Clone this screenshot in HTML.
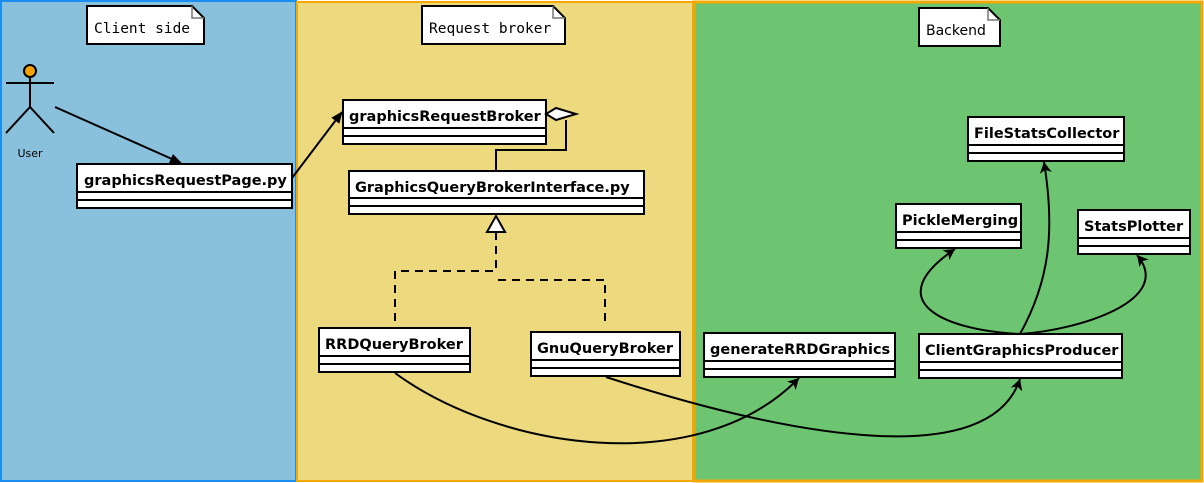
<!DOCTYPE html>
<html><head><meta charset="utf-8"><style>
html,body{margin:0;padding:0;background:#fff}
svg{display:block}
.b{font-family:"DejaVu Sans","Liberation Sans",sans-serif;font-weight:bold;font-size:14.5px}
.m{font-family:"DejaVu Sans Mono","Liberation Mono",monospace;font-size:14.5px}
.s{font-family:"DejaVu Sans","Liberation Sans",sans-serif;font-size:14px}
</style></head><body>
<svg width="1204" height="483" viewBox="0 0 1204 483" xmlns="http://www.w3.org/2000/svg">
<defs>
<marker id="a" markerWidth="12" markerHeight="10" refX="11" refY="5" orient="auto" markerUnits="userSpaceOnUse">
<path d="M0,0 L12,5 L0,10 Z" fill="#000"/></marker>
<marker id="o" markerWidth="12" markerHeight="12" refX="11" refY="6" orient="auto" markerUnits="userSpaceOnUse">
<path d="M0,0 L11,6 L0,12 L3,6 Z" fill="#000"/></marker>
</defs>
<rect x="1" y="1" width="295" height="480" fill="#89c1dc" stroke="#1a8ff0" stroke-width="2"/>
<rect x="297" y="2" width="396" height="479" fill="#edd97e" stroke="#f5a800" stroke-width="2"/>
<rect x="694" y="2" width="508" height="479" fill="#6ec571" stroke="#f5a800" stroke-width="3"/>

<g stroke="#000" stroke-width="2" fill="#fff">
<path d="M87,6 H192 L204,18 V44 H87 Z"/>
<path d="M422,6 H553 L565,18 V44 H422 Z"/>
<path d="M919,8 H988 L1000,20 V46 H919 Z"/>
</g>
<g stroke="#777" stroke-width="1.5" fill="none">
<path d="M192,6 V18 H204"/><path d="M553,6 V18 H565"/><path d="M988,8 V20 H1000"/>
</g>
<text x="94" y="33" class="m">Client side</text>
<text x="429" y="33" class="m">Request broker</text>
<text x="926" y="35" class="s">Backend</text>

<!-- actor -->
<g stroke="#000" stroke-width="2" fill="none">
<line x1="6" y1="83" x2="54" y2="83"/>
<line x1="30" y1="77" x2="30" y2="107"/>
<path d="M6,133 L30,107 L54,133"/>
</g>
<circle cx="30" cy="71" r="6" fill="#f5a200" stroke="#000" stroke-width="2"/>
<text x="30" y="157" text-anchor="middle" style="font-family:'DejaVu Sans',sans-serif;font-size:11px">User</text>

<!-- boxes -->
<g stroke="#000" stroke-width="2" fill="#fff">
<rect x="77" y="164" width="215" height="44"/><line x1="77" y1="192" x2="292" y2="192"/><line x1="77" y1="200" x2="292" y2="200"/>
<rect x="343" y="100" width="203" height="44"/><line x1="343" y1="128" x2="546" y2="128"/><line x1="343" y1="136" x2="546" y2="136"/>
<rect x="349" y="171" width="295" height="43"/><line x1="349" y1="198" x2="644" y2="198"/><line x1="349" y1="206" x2="644" y2="206"/>
<rect x="319" y="328" width="151" height="44"/><line x1="319" y1="356" x2="470" y2="356"/><line x1="319" y1="364" x2="470" y2="364"/>
<rect x="531" y="332" width="149" height="44"/><line x1="531" y1="360" x2="680" y2="360"/><line x1="531" y1="368" x2="680" y2="368"/>
<rect x="704" y="333" width="191" height="44"/><line x1="704" y1="361" x2="895" y2="361"/><line x1="704" y1="369" x2="895" y2="369"/>
<rect x="919" y="334" width="203" height="44"/><line x1="919" y1="362" x2="1122" y2="362"/><line x1="919" y1="370" x2="1122" y2="370"/>
<rect x="968" y="117" width="156" height="44"/><line x1="968" y1="145" x2="1124" y2="145"/><line x1="968" y1="153" x2="1124" y2="153"/>
<rect x="896" y="204" width="125" height="44"/><line x1="896" y1="232" x2="1021" y2="232"/><line x1="896" y1="240" x2="1021" y2="240"/>
<rect x="1078" y="210" width="112" height="44"/><line x1="1078" y1="238" x2="1190" y2="238"/><line x1="1078" y1="246" x2="1190" y2="246"/>
</g>
<g class="b">
<text x="84" y="185">graphicsRequestPage.py</text>
<text x="349" y="121">graphicsRequestBroker</text>
<text x="355" y="192">GraphicsQueryBrokerInterface.py</text>
<text x="325" y="349">RRDQueryBroker</text>
<text x="537" y="353">GnuQueryBroker</text>
<text x="710" y="354">generateRRDGraphics</text>
<text x="925" y="355">ClientGraphicsProducer</text>
<text x="974" y="138">FileStatsCollector</text>
<text x="902" y="225">PickleMerging</text>
<text x="1084" y="231">StatsPlotter</text>
</g>

<!-- connectors -->
<g stroke="#000" stroke-width="2" fill="none">
<line x1="55" y1="107" x2="181" y2="163" marker-end="url(#a)"/>
<line x1="292" y1="178" x2="342" y2="112" marker-end="url(#a)"/>
<path d="M566,120 V150 H496 V171"/>
<path d="M496,232 V271 H395 V328" stroke-dasharray="8,6"/>
<path d="M498,280 H605 V324" stroke-dasharray="8,6"/>
<path d="M395,373 C500,450 700,480 799,378" marker-end="url(#o)"/>
<path d="M606,377 C800,440 990,470 1020,379" marker-end="url(#o)"/>
<path d="M1020,334 C940,330 880,300 955,249" marker-end="url(#o)"/>
<path d="M1020,334 C1050,280 1055,230 1044,162" marker-end="url(#o)"/>
<path d="M1020,334 C1080,330 1175,300 1137,255" marker-end="url(#o)"/>
</g>
<path d="M546,114 L556,108 L576,114 L556,120 Z" fill="#fff" stroke="#000" stroke-width="2"/>
<path d="M496,216 L505,232 L487,232 Z" fill="#fff" stroke="#000" stroke-width="2"/>
</svg>
</body></html>
